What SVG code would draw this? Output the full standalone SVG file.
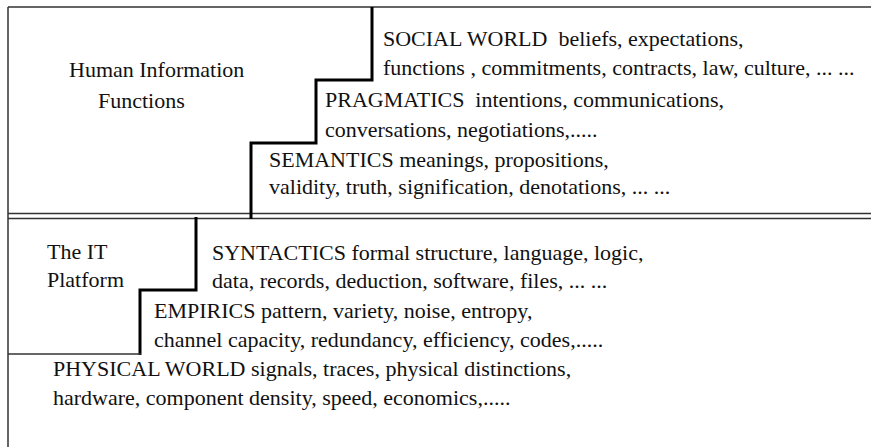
<svg xmlns="http://www.w3.org/2000/svg" width="871" height="447" viewBox="0 0 871 447">
<style>
.t{font-family:"Liberation Serif","Times New Roman",serif;font-size:22px;fill:#111}
.frame{stroke:#333;stroke-width:1.5;fill:none}
.step{stroke:#000;stroke-width:3;fill:none}
</style>
<rect width="871" height="447" fill="#fff"/>
<g id="frame">
<path class="frame" d="M8,7H871M8,7V447M8,213.5H871M8,218.5H871"/>
</g>
<g id="connectors">
<path class="step" d="M372,7V81M316,80H373.5M316,78.5V143M250,143H317.5M251,141.5V219"/>
<path class="step" d="M196,217V291M139,290H197.5M140,288.5V355"/>
<path class="frame" stroke-width="2" d="M8,354H141"/>
</g>
<g id="human-info">
<text class="t" x="69" y="77">Human Information</text>
<text class="t" x="98" y="108">Functions</text>
</g>
<g id="it-platform">
<text class="t" x="47" y="259">The IT</text>
<text class="t" x="47" y="287">Platform</text>
</g>
<g id="social-world">
<text class="t" x="383" y="46" xml:space="preserve">SOCIAL WORLD  beliefs, expectations,</text>
<text class="t" x="383" y="75">functions , commitments, contracts, law, culture, ... ...</text>
</g>
<g id="pragmatics">
<text class="t" x="325" y="107" xml:space="preserve">PRAGMATICS  intentions, communications,</text>
<text class="t" x="325" y="137">conversations, negotiations,.....</text>
</g>
<g id="semantics">
<text class="t" x="269" y="167">SEMANTICS meanings, propositions,</text>
<text class="t" x="269" y="194">validity, truth, signification, denotations, ... ...</text>
</g>
<g id="syntactics">
<text class="t" x="212" y="260">SYNTACTICS formal structure, language, logic,</text>
<text class="t" x="212" y="288">data, records, deduction, software, files, ... ...</text>
</g>
<g id="empirics">
<text class="t" x="154" y="318">EMPIRICS pattern, variety, noise, entropy,</text>
<text class="t" x="154" y="347">channel capacity, redundancy, efficiency, codes,.....</text>
</g>
<g id="physical-world">
<text class="t" x="53" y="376">PHYSICAL WORLD signals, traces, physical distinctions,</text>
<text class="t" x="53" y="405">hardware, component density, speed, economics,.....</text>
</g>
</svg>
